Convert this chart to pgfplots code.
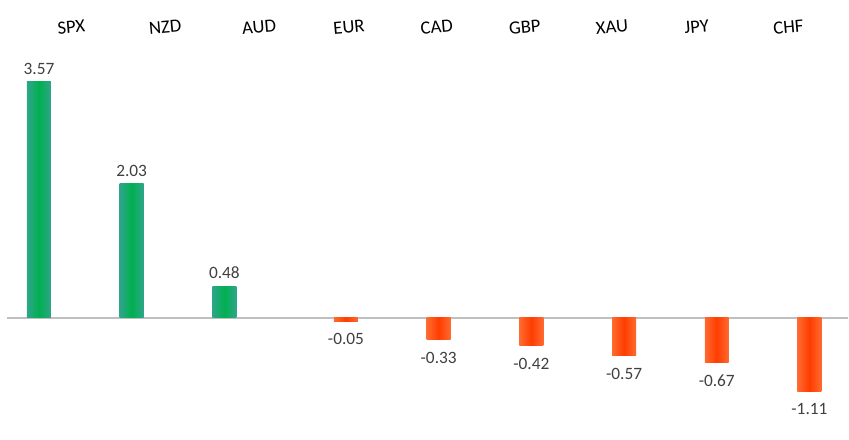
\documentclass[border=0pt]{standalone}
\usepackage{pgfplots}
\pgfplotsset{compat=1.18}
\usepackage{fontspec}
\setmainfont{Carlito}
\definecolor{gcore}{HTML}{00B050}
\definecolor{gedge}{HTML}{2FA58A}
\definecolor{rcore}{HTML}{FF3D00}
\definecolor{redge}{HTML}{FF6A30}
\definecolor{zline}{HTML}{BFBFBF}
\definecolor{vlab}{HTML}{404040}
\pgfplotsset{
  posbar/.style={ybar, bar width=18pt, bar shift=0pt, draw=none,
    left color=gedge, right color=gedge, middle color=gcore,
    nodes near coords,
    every node near coord/.append style={anchor=south, yshift=2pt, font=\fontsize{13}{15}\selectfont, text=vlab}},
  negbar/.style={ybar, bar width=18pt, bar shift=0pt, draw=none,
    left color=redge, right color=redge, middle color=rcore,
    nodes near coords,
    every node near coord/.append style={anchor=north, yshift=-6pt, font=\fontsize{13}{15}\selectfont, text=vlab}},
}
\begin{document}
\begin{tikzpicture}
\begin{axis}[
  scale only axis,
  width=636.75pt, height=330pt,
  xmin=-0.5765, xmax=8.572,
  ymin=-1.843, ymax=4.804,
  axis line style={draw=none},
  major tick length=0pt,
  ytick=\empty,
  xtick={0.167,1.18,2.193,3.163,4.11,5.06,6.0,6.913,7.904},
  xticklabels={SPX,NZD,AUD,EUR,CAD,GBP,XAU,JPY,CHF},
  xticklabel pos=upper,
  xticklabel style={rotate=5, anchor=center, yshift=-20.25pt, font=\fontsize{14}{16}\selectfont, text=black},
  clip=false,
  point meta=explicit symbolic,
]
\addplot[draw=zline, line width=1.5pt, forget plot] coordinates {(-0.501,0) (8.572,0)};
\addplot[posbar] coordinates {(-0.156,3.57) [3.57]};
\addplot[posbar] coordinates {(0.844,2.03) [2.03]};
\addplot[posbar] coordinates {(1.844,0.48) [0.48]};
\addplot[negbar] coordinates {(3.156,-0.05) [-0.05]};
\addplot[negbar] coordinates {(4.156,-0.33) [-0.33]};
\addplot[negbar] coordinates {(5.156,-0.42) [-0.42]};
\addplot[negbar] coordinates {(6.156,-0.57) [-0.57]};
\addplot[negbar] coordinates {(7.156,-0.67) [-0.67]};
\addplot[negbar] coordinates {(8.156,-1.11) [-1.11]};
\end{axis}
\end{tikzpicture}
\end{document}
